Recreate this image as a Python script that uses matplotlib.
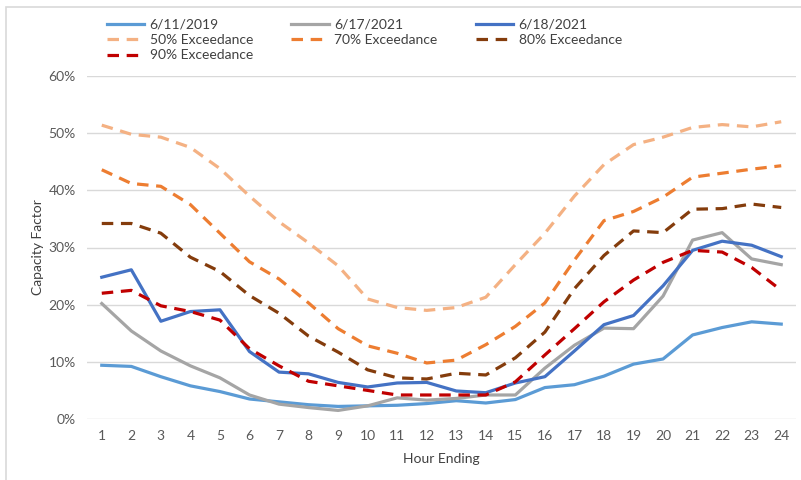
import matplotlib
matplotlib.use("Agg")
import matplotlib.pyplot as plt
from matplotlib.patches import Rectangle
from matplotlib.ticker import PercentFormatter

plt.rcParams['font.family'] = ['Lato', 'DejaVu Sans']

hours = list(range(1, 25))

# Capacity factor (%) par heure
d_2019_06_11 = [9.4, 9.2, 7.4, 5.8, 4.8, 3.5, 3.0, 2.5, 2.2, 2.3, 2.4, 2.7,
                3.2, 2.8, 3.4, 5.5, 6.0, 7.5, 9.6, 10.5, 14.7, 16.0, 17.0, 16.6]
d_2021_06_17 = [20.2, 15.4, 11.9, 9.3, 7.2, 4.2, 2.6, 2.0, 1.5, 2.3, 3.7, 3.3,
                3.6, 4.2, 4.2, 8.9, 12.9, 15.9, 15.8, 21.5, 31.3, 32.6, 28.0, 27.0]
d_2021_06_18 = [24.8, 26.1, 17.1, 18.8, 19.1, 11.8, 8.2, 7.9, 6.4, 5.6, 6.3, 6.4,
                4.9, 4.6, 6.3, 7.4, 11.9, 16.5, 18.1, 23.3, 29.5, 31.1, 30.4, 28.4]
exc_50 = [51.4, 49.8, 49.3, 47.5, 43.8, 39.0, 34.5, 30.8, 26.8, 21.0, 19.5, 19.0,
          19.5, 21.3, 27.0, 32.5, 39.0, 44.5, 48.0, 49.3, 51.0, 51.5, 51.1, 52.0]
exc_70 = [43.6, 41.2, 40.7, 37.5, 32.5, 27.5, 24.5, 20.3, 15.8, 12.8, 11.5, 9.8,
          10.3, 13.0, 16.2, 20.3, 27.8, 34.7, 36.3, 38.8, 42.3, 43.0, 43.7, 44.3]
exc_80 = [34.2, 34.2, 32.5, 28.3, 25.8, 21.6, 18.5, 14.5, 11.7, 8.6, 7.2, 7.0,
          8.0, 7.7, 10.7, 15.2, 22.8, 28.6, 32.9, 32.6, 36.7, 36.8, 37.6, 37.0]
exc_90 = [22.0, 22.5, 19.8, 18.8, 17.3, 12.3, 9.3, 6.6, 5.8, 5.0, 4.2, 4.2,
          4.2, 4.2, 6.5, 11.2, 15.8, 20.5, 24.3, 27.4, 29.5, 29.2, 26.5, 22.5]

fig = plt.figure(figsize=(8.01, 4.80), dpi=100)
ax = fig.add_axes([87/801, 1 - 419/480, 709/801, 343/480])

lw = 2.3
l1, = ax.plot(hours, d_2019_06_11, color='#5B9BD5', lw=lw, label='6/11/2019')
l2, = ax.plot(hours, d_2021_06_17, color='#A5A5A5', lw=lw, label='6/17/2021')
l3, = ax.plot(hours, d_2021_06_18, color='#4472C4', lw=lw, label='6/18/2021')
dash = dict(lw=lw, linestyle=(0, (3.6, 2.4)), dash_capstyle='butt')
l4, = ax.plot(hours, exc_50, color='#F4B183', label='50% Exceedance', **dash)
l5, = ax.plot(hours, exc_70, color='#ED7D31', label='70% Exceedance', **dash)
l6, = ax.plot(hours, exc_80, color='#843C0C', label='80% Exceedance', **dash)
l7, = ax.plot(hours, exc_90, color='#C00000', label='90% Exceedance', **dash)

ax.set_xlim(0.5, 24.5)
ax.set_ylim(0, 60)
ax.set_xticks(hours)
ax.set_yticks(range(0, 61, 10))
ax.yaxis.set_major_formatter(PercentFormatter(decimals=0))
ax.grid(axis='y', color='#D9D9D9', lw=1)
ax.set_axisbelow(True)
for s in ax.spines.values():
    s.set_visible(False)
ax.tick_params(length=0, labelsize=10, colors='#595959', pad=8)
ax.set_ylabel('Capacity Factor', fontsize=10, color='#404040', labelpad=3)
ax.set_xlabel('Hour Ending', fontsize=10, color='#404040', labelpad=8)

# ordre pour remplir le legend ligne par ligne
handles = [l1, l4, l7, l2, l5, l3, l6]
fig.legend(handles, [h.get_label() for h in handles], loc='upper left',
           bbox_to_anchor=(94/801, 1 - 6/480), ncol=3,
           frameon=False, fontsize=10, handlelength=2.7, handletextpad=0.4,
           columnspacing=2.75, labelspacing=0.25, labelcolor='#404040')

fig.patches.append(Rectangle((6/801, -0.1), 1.2, 1.1 - 7/480, transform=fig.transFigure,
                             fill=False, edgecolor='#D9D9D9', lw=1.2))

fig.savefig('out.png', dpi=100)
